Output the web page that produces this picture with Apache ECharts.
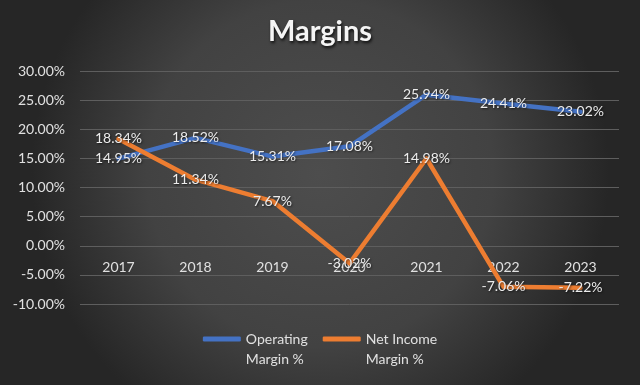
<!DOCTYPE html>
<html><head><meta charset="utf-8">
<script src="https://cdn.jsdelivr.net/npm/echarts@6/dist/echarts.min.js"></script>
<style>html,body{margin:0;padding:0;background:#333;}#c{width:640px;height:385px;}</style>
</head><body><div id="c"></div>
<script>
const categories = ['2017','2018','2019','2020','2021','2022','2023'];
const operatingMargin = [14.95, 18.52, 15.31, 17.08, 25.94, 24.41, 23.02];
const netIncomeMargin = [18.34, 11.34, 7.67, -3.02, 14.98, -7.06, -7.22];
const seriesNames = ['Operating Margin %', 'Net Income Margin %'];
const legendLabels = {'Operating Margin %': ' \nOperating\nMargin %', 'Net Income Margin %': ' \nNet Income\nMargin %'};

const FONT = 'Lato, "Open Sans", sans-serif';
const chart = echarts.init(document.getElementById('c'));
const lbl = {
  show: true, position: 'inside', color: '#ececec', fontSize: 14, fontFamily: FONT,
  textShadowColor: 'rgba(0,0,0,0.6)', textShadowBlur: 2, textShadowOffsetX: 1, textShadowOffsetY: 1,
  formatter: p => p.value.toFixed(2) + '%'
};
chart.setOption({
  backgroundColor: {
    type: 'radial', x: 0.5, y: 0.45, r: 0.75,
    colorStops: [{offset: 0, color: '#4d4d4d'}, {offset: 0.6, color: '#424242'}, {offset: 1, color: '#262626'}]
  },
  animation: false,
  title: {
    text: 'Margins', left: 'center', top: 12,
    textStyle: {
      color: '#f5f5f5', fontSize: 29, fontWeight: 'bold', fontFamily: FONT,
      textShadowColor: 'rgba(0,0,0,0.8)', textShadowBlur: 3, textShadowOffsetX: 1, textShadowOffsetY: 2
    }
  },
  legend: {
    top: 309, left: 'center', itemGap: 15, padding: 0,
    icon: 'roundRect', itemWidth: 38, itemHeight: 5,
    textStyle: {color: '#e0e0e0', fontSize: 14, fontFamily: FONT, lineHeight: 20},
    formatter: n => legendLabels[n],
    data: seriesNames
  },
  grid: {left: 80, right: 21, top: 71, bottom: 81},
  xAxis: {
    type: 'category', data: categories, boundaryGap: true, offset: -58,
    axisLine: {show: false, onZero: false},
    axisTick: {show: false},
    axisLabel: {color: '#e0e0e0', fontSize: 14, fontFamily: FONT, margin: 14}
  },
  yAxis: {
    type: 'value', min: -10, max: 30, interval: 5,
    axisLine: {show: false}, axisTick: {show: false},
    splitLine: {lineStyle: {color: '#5e5e5e', width: 1}},
    axisLabel: {color: '#e0e0e0', fontSize: 14, fontFamily: FONT, margin: 15,
      formatter: v => v.toFixed(2) + '%'}
  },
  series: [
    {name: seriesNames[0], type: 'line', data: operatingMargin, symbol: 'circle', symbolSize: 1, showSymbol: true,
      lineStyle: {color: '#4472C4', width: 4.5, cap: 'round', join: 'round'}, itemStyle: {color: '#4472C4'}, label: lbl},
    {name: seriesNames[1], type: 'line', data: netIncomeMargin, symbol: 'circle', symbolSize: 1, showSymbol: true,
      lineStyle: {color: '#ED7D31', width: 4.5, cap: 'round', join: 'round'}, itemStyle: {color: '#ED7D31'}, label: lbl}
  ]
});
</script></body></html>
